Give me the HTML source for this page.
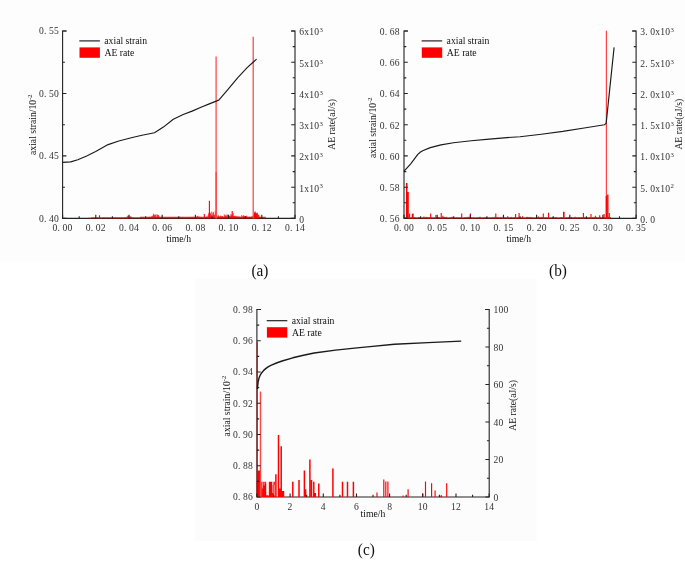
<!DOCTYPE html>
<html><head><meta charset="utf-8"><title>Axial strain and AE rate</title>
<style>
html,body{margin:0;padding:0;background:#fff}
svg{display:block}
.tk{font-family:"Liberation Serif",serif;font-size:9.6px;fill:#333}
.sp{font-size:6.8px}
.sp2{font-size:6.5px}
.lg{font-family:"Liberation Serif",serif;font-size:9.7px;fill:#111}
.cap{font-family:"Liberation Serif",serif;font-size:16.1px;fill:#111}
.ax{fill:none;stroke:#222;stroke-width:1.1}
.cv{fill:none;stroke:#1a1a1a;stroke-width:1.15;stroke-linejoin:round}
.cvc{stroke-width:1.4}
.rb{fill:none;stroke:#f00}
.rb2{fill:none;stroke:#f44}
</style></head><body>
<svg width="685" height="561" viewBox="0 0 685 561">
<rect width="685" height="561" fill="#fff"/>
<rect x="0" y="0" width="685" height="261.6" fill="#fdfdfd"/>
<rect x="195" y="278.6" width="342" height="262.2" fill="#fcfcfc"/>
<g id="chart-a">
<path class="ax" d="M66.6 31.0H62.6V218.4H295.0V31.0H291.0"/>
<path class="rb" stroke-width="1.1" stroke-opacity="0.5" d="M90.8 217.5H140.0"/>
<path class="rb" stroke-width="1.2" stroke-opacity="0.85" d="M140.0 217.4H265.8"/>
<path class="rb" stroke-width="0.70" d="M87.5 218.4V217.9M88.7 218.4V217.7M89.9 218.4V217.8M90.5 218.4V217.9M91.7 218.4V217.8M92.9 218.4V217.8M94.7 218.4V217.8M95.3 218.4V217.5M96.5 218.4V218.0M97.1 218.4V217.7M97.7 218.4V217.4M98.3 218.4V217.7M98.9 218.4V217.9M99.5 218.4V217.4M100.7 218.4V217.5M101.3 218.4V217.9M103.1 218.4V217.9M103.7 218.4V217.5M104.9 218.4V217.7M105.5 218.4V217.7M106.1 218.4V217.9M106.7 218.4V217.7M109.1 218.4V217.6M109.7 218.4V217.8M110.3 218.4V217.9M110.9 218.4V217.7M111.5 218.4V217.8M112.1 218.4V217.9M112.7 218.4V217.6M113.3 218.4V217.6M113.9 218.4V218.0M114.5 218.4V217.7M115.1 218.4V217.8M115.7 218.4V217.5M116.3 218.4V217.6M116.9 218.4V217.9M117.5 218.4V217.4M118.7 218.4V217.8M119.3 218.4V217.6M120.5 218.4V217.8M121.7 218.4V217.7M122.3 218.4V217.6M122.9 218.4V217.7M123.5 218.4V217.5M124.1 218.4V217.9M124.7 218.4V217.6M125.3 218.4V217.6M125.9 218.4V217.5M126.5 218.4V217.5M127.1 218.4V216.5M127.7 218.4V215.7M128.3 218.4V216.3M128.9 218.4V215.6M129.5 218.4V217.4M130.1 218.4V216.1M130.7 218.4V216.7M131.3 218.4V216.7M131.9 218.4V217.2M132.5 218.4V217.9M133.1 218.4V217.8M133.7 218.4V217.6M134.9 218.4V217.8M137.3 218.4V217.6M138.5 218.4V218.0M139.1 218.4V217.9M139.7 218.4V217.5M140.9 218.4V217.8M141.5 218.4V217.7M142.1 218.4V217.5M142.7 218.4V217.5M143.3 218.4V217.5M143.9 218.4V217.9M144.5 218.4V217.8M145.1 218.4V217.8M145.7 218.4V217.4M146.3 218.4V217.2M146.9 218.4V217.9M147.5 218.4V217.9M148.1 218.4V217.7M148.7 218.4V217.6M149.3 218.4V217.1M149.9 218.4V216.7M150.5 218.4V217.1M151.1 218.4V217.6M151.7 218.4V216.3M152.3 218.4V216.2M152.9 218.4V215.3M153.5 218.4V213.7M154.1 218.4V214.5M154.7 218.4V215.1M155.3 218.4V214.7M155.9 218.4V214.5M156.5 218.4V217.0M157.1 218.4V214.2M157.7 218.4V214.9M158.3 218.4V215.0M158.9 218.4V215.6M159.5 218.4V216.8M160.1 218.4V217.0M160.7 218.4V217.7M161.3 218.4V217.1M161.9 218.4V217.9M162.5 218.4V218.0M163.1 218.4V217.9M163.7 218.4V218.0M164.3 218.4V217.8M167.3 218.4V217.9M168.5 218.4V217.5M169.1 218.4V217.7M170.3 218.4V218.0M170.9 218.4V217.9M171.5 218.4V217.9M172.7 218.4V217.5M173.3 218.4V217.4M173.9 218.4V217.8M174.5 218.4V217.8M176.3 218.4V217.9M176.9 218.4V218.0M177.5 218.4V217.5M179.3 218.4V217.4M179.9 218.4V217.8M181.1 218.4V217.7M182.3 218.4V217.8M182.9 218.4V217.4M183.5 218.4V217.5M184.1 218.4V217.6M184.7 218.4V218.0M185.3 218.4V217.9M186.5 218.4V217.6M187.1 218.4V217.8M187.7 218.4V217.6M188.3 218.4V217.9M188.9 218.4V218.0M189.5 218.4V217.5M190.1 218.4V217.4M190.7 218.4V217.4M191.3 218.4V217.4M191.9 218.4V217.2M192.5 218.4V217.1M193.1 218.4V217.6M193.7 218.4V216.9M194.3 218.4V217.0M194.9 218.4V217.6M195.5 218.4V217.5M196.1 218.4V216.8M196.7 218.4V216.9M197.3 218.4V216.0M197.9 218.4V215.8M198.5 218.4V217.1M199.1 218.4V216.6M199.7 218.4V216.9M200.3 218.4V217.1M200.9 218.4V217.8M201.5 218.4V218.0M202.1 218.4V218.0M203.3 218.4V218.0M203.9 218.4V217.6M204.5 218.4V217.4M205.1 218.4V217.3M205.7 218.4V217.5M206.3 218.4V217.0M206.9 218.4V216.3M207.5 218.4V217.4M208.1 218.4V215.2M208.7 218.4V213.3M209.3 218.4V212.8M209.9 218.4V212.2M210.5 218.4V213.4M211.1 218.4V215.2M211.7 218.4V211.5M212.3 218.4V214.7M212.9 218.4V212.6M213.5 218.4V212.1M214.1 218.4V214.8M214.7 218.4V214.5M215.3 218.4V210.7M215.9 218.4V211.9M216.5 218.4V215.6M217.1 218.4V216.3M217.7 218.4V216.7M218.3 218.4V215.1M218.9 218.4V215.9M219.5 218.4V217.5M220.1 218.4V216.1M220.7 218.4V215.5M221.3 218.4V216.1M221.9 218.4V216.7M222.5 218.4V216.0M223.1 218.4V217.1M223.7 218.4V217.4M224.3 218.4V214.4M224.9 218.4V215.4M225.5 218.4V215.7M226.1 218.4V214.5M226.7 218.4V216.1M227.3 218.4V214.7M227.9 218.4V214.7M228.5 218.4V216.6M229.1 218.4V216.3M229.7 218.4V215.9M230.3 218.4V215.8M230.9 218.4V213.9M231.5 218.4V215.4M232.1 218.4V214.6M232.7 218.4V216.2M233.3 218.4V213.0M233.9 218.4V215.9M234.5 218.4V215.9M235.1 218.4V216.0M235.7 218.4V215.7M236.3 218.4V216.9M236.9 218.4V216.0M237.5 218.4V216.8M238.1 218.4V216.7M238.7 218.4V216.5M239.3 218.4V217.6M239.9 218.4V216.4M240.5 218.4V217.0M241.1 218.4V217.5M241.7 218.4V215.0M242.3 218.4V216.9M242.9 218.4V215.9M243.5 218.4V215.2M244.1 218.4V215.7M244.7 218.4V216.5M245.3 218.4V216.1M245.9 218.4V216.1M246.5 218.4V215.7M247.1 218.4V217.5M247.7 218.4V216.6M248.3 218.4V217.4M248.9 218.4V217.4M249.5 218.4V216.7M250.1 218.4V217.2M250.7 218.4V217.1M251.3 218.4V216.8M251.9 218.4V216.2M252.5 218.4V216.8M253.1 218.4V215.8M253.7 218.4V215.5M254.3 218.4V214.9M254.9 218.4V213.4M255.5 218.4V214.2M256.1 218.4V213.7M256.7 218.4V214.2M257.3 218.4V212.5M257.9 218.4V214.4M258.5 218.4V214.7M259.1 218.4V215.4M259.7 218.4V217.4M260.3 218.4V217.2M260.9 218.4V217.0M261.5 218.4V217.3M263.3 218.4V217.8M264.5 218.4V218.0M265.7 218.4V217.7"/>
<path class="rb" stroke-width="1.10" d="M209.4 218.4V200.7M232.2 218.4V211.0M99.5 218.4V215.2M204.3 218.4V214.0M255.2 218.4V211.5"/>
<path class="rb2" stroke-width="1.25" d="M216.1 218.4V56.4M253.2 218.4V36.8"/>
<path class="rb2" stroke-width="1.35" d="M216.2 218.4V172.0"/>
<path class="rb" stroke-width="1.10" d="M254.6 218.4V212.5M255.8 218.4V213.5M257.0 218.4V213.0"/>
<text class="tk" x="52.60 57.60 62.60 67.60" y="230.90">0.00</text>
<text class="tk" x="85.80 90.80 95.80 100.80" y="230.90">0.02</text>
<text class="tk" x="119.00 124.00 129.00 134.00" y="230.90">0.04</text>
<text class="tk" x="152.20 157.20 162.20 167.20" y="230.90">0.06</text>
<text class="tk" x="185.40 190.40 195.40 200.40" y="230.90">0.08</text>
<text class="tk" x="218.60 223.60 228.60 233.60" y="230.90">0.10</text>
<text class="tk" x="251.80 256.80 261.80 266.80" y="230.90">0.12</text>
<text class="tk" x="285.00 290.00 295.00 300.00" y="230.90">0.14</text>
<text class="tk" x="39.00 44.00 49.00 54.00" y="221.80">0.40</text>
<text class="tk" x="39.00 44.00 49.00 54.00" y="159.33">0.45</text>
<text class="tk" x="39.00 44.00 49.00 54.00" y="96.87">0.50</text>
<text class="tk" x="39.00 44.00 49.00 54.00" y="34.40">0.55</text>
<text class="tk" x="299.20" y="222.80">0</text>
<text class="tk" x="299.20 304.20 309.20 314.20" y="191.57">1x10<tspan class="sp" x="319.50" dy="-3.1">3</tspan></text>
<text class="tk" x="299.20 304.20 309.20 314.20" y="160.33">2x10<tspan class="sp" x="319.50" dy="-3.1">3</tspan></text>
<text class="tk" x="299.20 304.20 309.20 314.20" y="129.10">3x10<tspan class="sp" x="319.50" dy="-3.1">3</tspan></text>
<text class="tk" x="299.20 304.20 309.20 314.20" y="97.87">4x10<tspan class="sp" x="319.50" dy="-3.1">3</tspan></text>
<text class="tk" x="299.20 304.20 309.20 314.20" y="66.63">5x10<tspan class="sp" x="319.50" dy="-3.1">3</tspan></text>
<text class="tk" x="299.20 304.20 309.20 314.20" y="35.40">6x10<tspan class="sp" x="319.50" dy="-3.1">3</tspan></text>
<path class="ax" d="M62.6 218.4v-3.6M95.8 218.4v-3.6M129.0 218.4v-3.6M162.2 218.4v-3.6M195.4 218.4v-3.6M228.6 218.4v-3.6M261.8 218.4v-3.6M295.0 218.4v-3.6M79.2 218.4v-2.2M112.4 218.4v-2.2M145.6 218.4v-2.2M178.8 218.4v-2.2M212.0 218.4v-2.2M245.2 218.4v-2.2M278.4 218.4v-2.2M62.6 218.4h3.8M62.6 155.9h3.8M62.6 93.5h3.8M62.6 31.0h3.8M62.6 187.2h2.3M62.6 124.7h2.3M62.6 62.2h2.3M295.0 218.4h-3.8M295.0 187.2h-3.8M295.0 155.9h-3.8M295.0 124.7h-3.8M295.0 93.5h-3.8M295.0 62.2h-3.8M295.0 31.0h-3.8M295.0 202.8h-2.3M295.0 171.6h-2.3M295.0 140.3h-2.3M295.0 109.1h-2.3M295.0 77.8h-2.3M295.0 46.6h-2.3"/>
<polyline class="cv" points="62.6,162.4 70.7,161.9 77.8,159.7 86.7,156.0 95.7,151.4 108.1,144.6 118.8,141.0 131.3,137.8 142.0,135.3 154.5,132.8 163.4,127.1 173.3,119.2 183.2,114.5 192.1,111.1 201.0,107.2 209.9,103.6 218.8,100.1 227.8,89.7 237.6,77.8 247.4,67.4 256.6,59.1"/>
<path class="cv" d="M79.3 40.9h20.6"/>
<text class="lg" x="104.3" y="44.0">axial strain</text>
<rect fill="#f00" x="79.5" y="47.4" width="20.4" height="10.4"/>
<text class="lg" x="104.5" y="56.1">AE rate</text>
<text class="lg" text-anchor="middle" transform="translate(35.7 124.7) rotate(-90)">axial strain/10<tspan class="sp2" dy="-4.0">-2</tspan></text>
<text class="lg" text-anchor="middle" transform="translate(334.5 124.4) rotate(-90)">AE rate(aJ/s)</text>
<text class="lg" text-anchor="middle" x="178.8" y="241.7">time/h</text>
<text class="cap" text-anchor="middle" transform="translate(259.9 276.4) scale(0.95 1)">(a)</text>
</g>
<g id="chart-b">
<path class="ax" d="M408.0 31.0H404.0V218.4H636.1V31.0H632.1"/>
<path class="rb" stroke-width="0.9" stroke-opacity="0.6" d="M405.0 217.6H611"/>
<path class="rb" stroke-width="0.90" d="M405.9 218.4V217.9M407.7 218.4V217.6M408.6 218.4V218.1M409.5 218.4V218.1M410.4 218.4V218.1M411.3 218.4V217.4M412.2 218.4V217.6M413.1 218.4V217.4M414.0 218.4V217.6M414.9 218.4V217.2M415.8 218.4V217.6M416.7 218.4V218.1M417.6 218.4V217.9M418.5 218.4V217.2M419.4 218.4V217.2M420.3 218.4V217.6M421.2 218.4V218.1M423.0 218.4V217.6M423.9 218.4V217.6M424.8 218.4V218.1M425.7 218.4V217.2M426.6 218.4V216.9M427.5 218.4V217.2M428.4 218.4V217.4M429.3 218.4V217.2M430.2 218.4V217.6M431.1 218.4V217.4M432.0 218.4V217.4M432.9 218.4V217.9M433.8 218.4V218.1M434.7 218.4V217.4M435.6 218.4V217.9M436.5 218.4V217.4M437.4 218.4V216.9M438.3 218.4V217.2M439.2 218.4V217.2M440.1 218.4V218.1M441.0 218.4V217.9M441.9 218.4V217.2M442.8 218.4V217.4M443.7 218.4V216.9M444.6 218.4V216.9M445.5 218.4V217.4M446.4 218.4V216.9M447.3 218.4V217.9M448.2 218.4V217.9M450.0 218.4V217.6M450.9 218.4V217.9M451.8 218.4V217.9M452.7 218.4V217.4M453.6 218.4V217.4M454.5 218.4V217.9M456.3 218.4V217.6M457.2 218.4V217.4M459.0 218.4V217.6M460.8 218.4V217.2M462.6 218.4V218.1M464.4 218.4V217.4M465.3 218.4V217.2M466.2 218.4V217.6M467.1 218.4V216.9M468.0 218.4V216.9M468.9 218.4V216.9M469.8 218.4V217.2M470.7 218.4V218.1M471.6 218.4V217.4M472.5 218.4V217.9M473.4 218.4V217.4M474.3 218.4V217.9M476.1 218.4V218.1M477.0 218.4V217.6M477.9 218.4V217.2M478.8 218.4V217.9M479.7 218.4V217.4M480.6 218.4V217.9M481.5 218.4V218.1M482.4 218.4V217.9M484.2 218.4V217.4M485.1 218.4V217.9M486.0 218.4V216.9M487.8 218.4V217.6M488.7 218.4V217.9M489.6 218.4V217.4M491.4 218.4V217.9M492.3 218.4V217.2M493.2 218.4V217.9M494.1 218.4V217.4M495.0 218.4V216.9M495.9 218.4V217.2M496.8 218.4V217.4M497.7 218.4V216.9M498.6 218.4V217.6M499.5 218.4V217.9M500.4 218.4V216.9M501.3 218.4V218.1M502.2 218.4V217.6M503.1 218.4V217.9M504.0 218.4V217.6M504.9 218.4V217.4M505.8 218.4V217.9M506.7 218.4V217.6M507.6 218.4V217.6M508.5 218.4V217.4M509.4 218.4V218.1M510.3 218.4V217.4M511.2 218.4V216.9M513.0 218.4V217.6M513.9 218.4V217.4M514.8 218.4V217.2M515.7 218.4V216.9M516.6 218.4V218.1M517.5 218.4V217.6M518.4 218.4V217.4M519.3 218.4V217.4M521.1 218.4V217.9M522.0 218.4V217.4M522.9 218.4V217.9M523.8 218.4V217.9M524.7 218.4V217.9M525.6 218.4V218.1M526.5 218.4V216.9M527.4 218.4V216.9M528.3 218.4V217.6M529.2 218.4V216.9M530.1 218.4V217.2M531.0 218.4V217.6M531.9 218.4V217.2M532.8 218.4V217.9M533.7 218.4V218.1M535.5 218.4V218.1M536.4 218.4V217.2M537.3 218.4V218.1M538.2 218.4V217.2M539.1 218.4V216.9M540.9 218.4V217.2M541.8 218.4V216.9M542.7 218.4V217.4M543.6 218.4V218.1M544.5 218.4V217.6M545.4 218.4V217.6M546.3 218.4V217.4M547.2 218.4V217.6M549.0 218.4V218.1M549.9 218.4V218.1M550.8 218.4V218.1M551.7 218.4V217.6M552.6 218.4V217.2M553.5 218.4V217.4M554.4 218.4V217.9M556.2 218.4V217.6M557.1 218.4V217.9M558.0 218.4V217.9M558.9 218.4V218.1M559.8 218.4V218.1M560.7 218.4V217.4M561.6 218.4V217.2M562.5 218.4V217.6M563.4 218.4V217.9M564.3 218.4V217.9M565.2 218.4V218.1M567.0 218.4V217.2M568.8 218.4V216.9M569.7 218.4V218.1M570.6 218.4V217.4M571.5 218.4V216.9M572.4 218.4V217.6M573.3 218.4V218.1M574.2 218.4V217.4M575.1 218.4V217.9M576.0 218.4V217.2M576.9 218.4V217.6M577.8 218.4V217.6M578.7 218.4V217.4M579.6 218.4V217.2M580.5 218.4V217.9M581.4 218.4V217.4M582.3 218.4V217.4M583.2 218.4V217.4M584.1 218.4V216.9M585.0 218.4V217.4M585.9 218.4V217.6M586.8 218.4V217.9M587.7 218.4V217.4M588.6 218.4V217.6M589.5 218.4V217.4M590.4 218.4V217.6M591.3 218.4V217.9M592.2 218.4V217.4M593.1 218.4V217.2M594.0 218.4V217.9M594.9 218.4V217.2M595.8 218.4V217.4M596.7 218.4V216.9M597.6 218.4V218.1M598.5 218.4V217.6M599.4 218.4V217.6M600.3 218.4V216.9M602.1 218.4V217.9M603.0 218.4V217.9M603.9 218.4V217.4M605.7 218.4V217.9M606.6 218.4V217.6M607.5 218.4V217.2M608.4 218.4V216.9M609.3 218.4V217.9M610.2 218.4V217.2"/>
<path class="rb" stroke-width="1.10" d="M409.6 218.4V213.4M412.3 218.4V213.9M413.1 218.4V213.4M430.7 218.4V213.4M435.9 218.4V214.9M441.2 218.4V213.1M442.9 218.4V215.8M461.7 218.4V213.4M470.4 218.4V213.4M495.8 218.4V213.4M503.4 218.4V215.8M507.7 218.4V216.3M515.6 218.4V214.0M519.1 218.4V213.1M522.6 218.4V216.3M538.4 218.4V216.6M543.3 218.4V213.4M548.6 218.4V212.8M583.4 218.4V213.1M591.0 218.4V214.0M595.3 218.4V215.8M599.7 218.4V215.2M604.1 218.4V214.0M609.3 218.4V213.1M527.0 218.4V216.9M556.0 218.4V216.9M575.0 218.4V216.8M480.0 218.4V216.8M452.0 218.4V216.8M424.0 218.4V216.6"/>
<path class="rb" stroke-width="1.60" d="M563.8 218.4V211.7"/>
<path class="rb" stroke-width="1.60" d="M406.7 218.4V183.1M408.0 218.4V191.9"/>
<path class="rb" stroke-width="1.40" d="M607.8 218.4V194.5"/>
<path class="rb2" stroke-width="1.25" d="M606.4 218.4V30.7"/>
<path class="rb" stroke-width="1.40" d="M606.4 218.4V196.0"/>
<text class="tk" x="394.00 399.00 404.00 409.00" y="230.90">0.00</text>
<text class="tk" x="427.16 432.16 437.16 442.16" y="230.90">0.05</text>
<text class="tk" x="460.31 465.31 470.31 475.31" y="230.90">0.10</text>
<text class="tk" x="493.47 498.47 503.47 508.47" y="230.90">0.15</text>
<text class="tk" x="526.63 531.63 536.63 541.63" y="230.90">0.20</text>
<text class="tk" x="559.79 564.79 569.79 574.79" y="230.90">0.25</text>
<text class="tk" x="592.94 597.94 602.94 607.94" y="230.90">0.30</text>
<text class="tk" x="626.10 631.10 636.10 641.10" y="230.90">0.35</text>
<text class="tk" x="379.80 384.80 389.80 394.80" y="222.30">0.56</text>
<text class="tk" x="379.80 384.80 389.80 394.80" y="191.07">0.58</text>
<text class="tk" x="379.80 384.80 389.80 394.80" y="159.83">0.60</text>
<text class="tk" x="379.80 384.80 389.80 394.80" y="128.60">0.62</text>
<text class="tk" x="379.80 384.80 389.80 394.80" y="97.37">0.64</text>
<text class="tk" x="379.80 384.80 389.80 394.80" y="66.13">0.66</text>
<text class="tk" x="379.80 384.80 389.80 394.80" y="34.90">0.68</text>
<text class="tk" x="640.30 645.30 650.30" y="222.80">0.0</text>
<text class="tk" x="640.30 645.30 650.30 655.30 660.30 665.30" y="191.57">5.0x10<tspan class="sp" x="670.60" dy="-3.1">2</tspan></text>
<text class="tk" x="640.30 645.30 650.30 655.30 660.30 665.30" y="160.33">1.0x10<tspan class="sp" x="670.60" dy="-3.1">3</tspan></text>
<text class="tk" x="640.30 645.30 650.30 655.30 660.30 665.30" y="129.10">1.5x10<tspan class="sp" x="670.60" dy="-3.1">3</tspan></text>
<text class="tk" x="640.30 645.30 650.30 655.30 660.30 665.30" y="97.87">2.0x10<tspan class="sp" x="670.60" dy="-3.1">3</tspan></text>
<text class="tk" x="640.30 645.30 650.30 655.30 660.30 665.30" y="66.63">2.5x10<tspan class="sp" x="670.60" dy="-3.1">3</tspan></text>
<text class="tk" x="640.30 645.30 650.30 655.30 660.30 665.30" y="35.40">3.0x10<tspan class="sp" x="670.60" dy="-3.1">3</tspan></text>
<path class="ax" d="M404.0 218.4v-3.6M437.2 218.4v-3.6M470.3 218.4v-3.6M503.5 218.4v-3.6M536.6 218.4v-3.6M569.8 218.4v-3.6M602.9 218.4v-3.6M636.1 218.4v-3.6M420.6 218.4v-2.2M453.7 218.4v-2.2M486.9 218.4v-2.2M520.1 218.4v-2.2M553.2 218.4v-2.2M586.4 218.4v-2.2M619.5 218.4v-2.2M404.0 218.4h3.8M404.0 187.2h3.8M404.0 155.9h3.8M404.0 124.7h3.8M404.0 93.5h3.8M404.0 62.2h3.8M404.0 31.0h3.8M404.0 202.8h2.3M404.0 171.6h2.3M404.0 140.3h2.3M404.0 109.1h2.3M404.0 77.9h2.3M404.0 46.6h2.3M636.1 218.4h-3.8M636.1 187.2h-3.8M636.1 155.9h-3.8M636.1 124.7h-3.8M636.1 93.5h-3.8M636.1 62.2h-3.8M636.1 31.0h-3.8M636.1 202.8h-2.3M636.1 171.6h-2.3M636.1 140.3h-2.3M636.1 109.1h-2.3M636.1 77.8h-2.3M636.1 46.6h-2.3"/>
<polyline class="cv" points="403.9,171.3 410.7,163.8 417.8,154.4 420.5,152.0 423.2,150.5 430.3,147.6 441.0,144.9 453.5,142.8 471.3,140.8 489.2,139.1 507.0,137.6 520.0,136.8 541.4,134.2 562.8,131.4 584.2,128.0 604.5,124.8 606.2,123.1 609.8,88.4 614.1,47.4"/>
<path class="cv" d="M421.6 40.9h20.6"/>
<text class="lg" x="446.6" y="44.0">axial strain</text>
<rect fill="#f00" x="421.8" y="47.4" width="20.4" height="10.4"/>
<text class="lg" x="446.8" y="56.1">AE rate</text>
<text class="lg" text-anchor="middle" transform="translate(376.2 127.7) rotate(-90)">axial strain/10<tspan class="sp2" dy="-4.0">-2</tspan></text>
<text class="lg" text-anchor="middle" transform="translate(682.3 124.2) rotate(-90)">AE rate(aJ/s)</text>
<text class="lg" text-anchor="middle" x="518.8" y="241.9">time/h</text>
<text class="cap" text-anchor="middle" transform="translate(558.0 276.4) scale(0.95 1)">(b)</text>
</g>
<g id="chart-c">
<path class="ax" d="M260.9 309.5H256.9V497.0H489.2V309.5H485.2"/>
<path class="rb" stroke-width="1.50" d="M257.5 497.0V481.7M258.4 497.0V481.7M259.3 497.0V481.7M260.2 497.0V481.7M261.1 497.0V481.7M262.8 497.0V481.7M263.7 497.0V481.7M264.6 497.0V481.7M265.5 497.0V481.7M269.6 497.0V481.7M270.7 497.0V481.7M271.8 497.0V481.7M274.1 497.0V481.7M273.2 497.0V484.9M258.2 497.0V470.6M259.3 497.0V470.6M260.0 497.0V470.6M266.9 497.0V495.2M267.8 497.0V495.2M275.9 497.0V474.2M278.5 497.0V435.0M281.2 497.0V446.2M279.8 497.0V488.5M283.5 497.0V491.1M282.3 497.0V491.1M292.8 497.0V481.7M299.0 497.0V479.9M304.4 497.0V470.6M305.6 497.0V489.3M309.9 497.0V459.4M311.5 497.0V479.9M313.8 497.0V481.7M315.3 497.0V492.9M318.8 497.0V483.5M332.9 497.0V468.5M342.5 497.0V481.7M347.5 497.0V481.7M353.4 497.0V481.7"/>
<path class="rb" stroke-width="1.15" d="M377.0 497.0V492.6M383.8 497.0V479.6M385.8 497.0V481.6M387.9 497.0V481.6M403.1 497.0V495.5M408.1 497.0V489.2M422.6 497.0V493.5M425.5 497.0V481.6M431.6 497.0V483.3M435.1 497.0V490.6M440.0 497.0V495.5M441.5 497.0V495.2M446.7 497.0V483.3"/>
<path fill="none" stroke="#fcfcfc" stroke-width="0.6" d="M262.3 481.2V488.5M264.1 481.2V485.5M272.7 481.2V493M274.2 485V495.5M266.3 481.2V484"/>
<path fill="none" stroke="#d00000" stroke-opacity="0.75" stroke-width="1.3" d="M257.3 497.0V341.7"/>
<path class="rb2" stroke-width="1.40" d="M260.5 497.0V391.6"/>
<text class="tk" x="254.40" y="509.50">0</text>
<text class="tk" x="287.59" y="509.50">2</text>
<text class="tk" x="320.77" y="509.50">4</text>
<text class="tk" x="353.96" y="509.50">6</text>
<text class="tk" x="387.14" y="509.50">8</text>
<text class="tk" x="417.83 422.83" y="509.50">10</text>
<text class="tk" x="451.01 456.01" y="509.50">12</text>
<text class="tk" x="484.20 489.20" y="509.50">14</text>
<text class="tk" x="233.00 238.00 243.00 248.00" y="500.40">0.86</text>
<text class="tk" x="233.00 238.00 243.00 248.00" y="469.15">0.88</text>
<text class="tk" x="233.00 238.00 243.00 248.00" y="437.90">0.90</text>
<text class="tk" x="233.00 238.00 243.00 248.00" y="406.65">0.92</text>
<text class="tk" x="233.00 238.00 243.00 248.00" y="375.40">0.94</text>
<text class="tk" x="233.00 238.00 243.00 248.00" y="344.15">0.96</text>
<text class="tk" x="233.00 238.00 243.00 248.00" y="312.90">0.98</text>
<text class="tk" x="493.40" y="500.90">0</text>
<text class="tk" x="493.40 498.40" y="463.40">20</text>
<text class="tk" x="493.40 498.40" y="425.90">40</text>
<text class="tk" x="493.40 498.40" y="388.40">60</text>
<text class="tk" x="493.40 498.40" y="350.90">80</text>
<text class="tk" x="493.40 498.40 503.40" y="313.40">100</text>
<path class="ax" d="M256.9 497.0v-3.6M290.1 497.0v-3.6M323.3 497.0v-3.6M356.5 497.0v-3.6M389.6 497.0v-3.6M422.8 497.0v-3.6M456.0 497.0v-3.6M489.2 497.0v-3.6M273.5 497.0v-2.2M306.7 497.0v-2.2M339.9 497.0v-2.2M373.0 497.0v-2.2M406.2 497.0v-2.2M439.4 497.0v-2.2M472.6 497.0v-2.2M256.9 497.0h3.8M256.9 465.8h3.8M256.9 434.5h3.8M256.9 403.3h3.8M256.9 372.0h3.8M256.9 340.8h3.8M256.9 309.5h3.8M256.9 481.4h2.3M256.9 450.1h2.3M256.9 418.9h2.3M256.9 387.6h2.3M256.9 356.4h2.3M256.9 325.1h2.3M489.2 497.0h-3.8M489.2 459.5h-3.8M489.2 422.0h-3.8M489.2 384.5h-3.8M489.2 347.0h-3.8M489.2 309.5h-3.8M489.2 478.2h-2.3M489.2 440.8h-2.3M489.2 403.2h-2.3M489.2 365.8h-2.3M489.2 328.2h-2.3"/>
<polyline class="cv cvc" points="257.4,389.0 257.7,385.6 258.2,381.5 259.0,378.1 260.2,375.2 261.8,372.7 263.7,370.4 266.0,368.4 268.5,366.7 271.4,365.2 276.5,363.0 282.1,361.0 292.8,357.8 303.5,355.2 314.2,353.0 335.6,350.1 357.0,347.9 370.0,346.6 394.4,344.3 427.8,342.6 461.2,341.1"/>
<path class="cv" d="M266.7 320.7h20.6"/>
<text class="lg" x="291.7" y="323.8">axial strain</text>
<rect fill="#f00" x="266.9" y="327.2" width="20.4" height="10.4"/>
<text class="lg" x="291.9" y="335.9">AE rate</text>
<text class="lg" text-anchor="middle" transform="translate(229.9 406.1) rotate(-90)">axial strain/10<tspan class="sp2" dy="-4.0">-2</tspan></text>
<text class="lg" text-anchor="middle" transform="translate(515.6 405.4) rotate(-90)">AE rate(aJ/s)</text>
<text class="lg" text-anchor="middle" x="373.0" y="517.4">time/h</text>
<text class="cap" text-anchor="middle" transform="translate(366.3 554.7) scale(0.95 1)">(c)</text>
</g>
</svg>
</body></html>
